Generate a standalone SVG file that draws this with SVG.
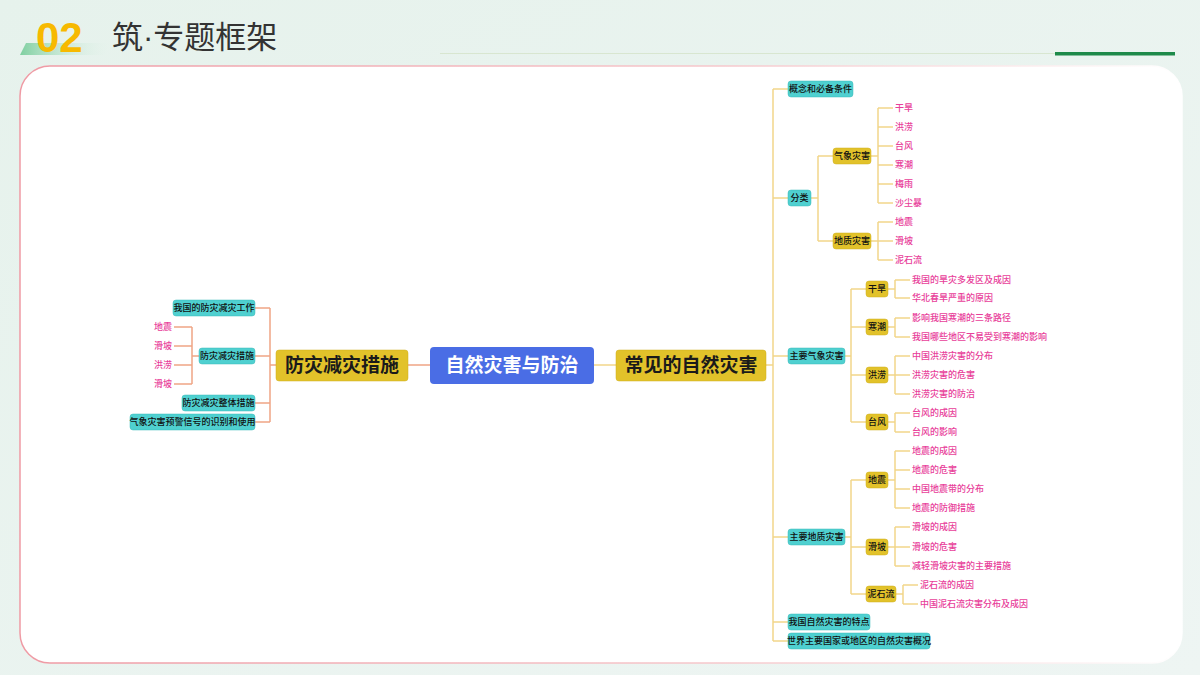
<svg xmlns="http://www.w3.org/2000/svg" width="1200" height="675" viewBox="0 0 1200 675">
<defs>
<linearGradient id="bg" x1="0" y1="0" x2="1" y2="1"><stop offset="0" stop-color="#e6f2ec"/><stop offset="1" stop-color="#eef5f3"/></linearGradient>
<linearGradient id="bar" x1="0" y1="0" x2="1" y2="0"><stop offset="0" stop-color="#7fcfa0"/><stop offset="1" stop-color="#e0f2e8" stop-opacity="0"/></linearGradient>
<linearGradient id="card" x1="0" y1="0" x2="1" y2="0"><stop offset="0" stop-color="#ef9aa4"/><stop offset="0.6" stop-color="#f6c8cc"/><stop offset="1" stop-color="#ffffff"/></linearGradient>
<style>
text{font-family:"Noto Sans CJK SC","Noto Sans",sans-serif}
.t1{fill:#4fd0d0;stroke:#3bb8b8;stroke-width:0.5}
.y1{fill:#e2c22a;stroke:#cfae1c;stroke-width:0.5}
.n{font-size:9px;fill:#111;font-weight:500}
.p{font-size:9px;fill:#e8409a;font-weight:500}
.cr{fill:none;stroke:#f2d68a;stroke-width:1.5;stroke-linejoin:round}
.cl{fill:none;stroke:#f0a585;stroke-width:1.5;stroke-linejoin:round}
</style>
</defs>
<rect width="1200" height="675" fill="url(#bg)"/>
<polygon points="26,43 110,43 104,55 20,55" fill="url(#bar)"/>
<text x="36" y="52" font-size="42" font-weight="bold" fill="#f7b900" style="font-family:'Liberation Sans',sans-serif">02</text>
<text x="112" y="48" font-size="31" fill="#333">筑<tspan style="font-family:'Liberation Sans',sans-serif">·</tspan>专题框架</text>
<line x1="440" y1="53.5" x2="1175" y2="53.5" stroke="#d8e6d0" stroke-width="1"/>
<rect x="1055" y="52" width="120" height="3.5" fill="#1e8a4a"/>
<rect x="20" y="66" width="1162" height="597" rx="30" fill="#fff" stroke="url(#card)" stroke-width="1.5"/>

<g id="connectors">
<path class="cl" d="M430 365 H408 M276 365 H270 M270 308 V422 M270 308 H255 M270 356 H255 M270 403 H255 M270 422 H255 M199 356 H192 M192 327 V384 M192 327 H174 M192 346 H174 M192 365 H174 M192 384 H174"/>
<path class="cr" d="M594 365 H616 M766 365 H773 M773 89 V641 M773 89 H788 M773 198 H788 M773 356 H788 M773 537 H788 M773 622 H788 M773 641 H788
M810 198 H818 M818 156 V241 M818 156 H833 M818 241 H833
M871 156 H878 M878 108 V203 M878 108 H893 M878 127 H893 M878 146 H893 M878 165 H893 M878 184 H893 M878 203 H893
M871 241 H878 M878 222 V260 M878 222 H893 M878 241 H893 M878 260 H893
M844 356 H851 M851 289 V422 M851 289 H866 M851 327 H866 M851 375 H866 M851 422 H866
M888 289 H895 M895 280 V298 M895 280 H910 M895 298 H910
M888 327 H895 M895 318 V337 M895 318 H910 M895 337 H910
M888 375 H895 M895 356 V394 M895 356 H910 M895 375 H910 M895 394 H910
M888 422 H895 M895 413 V432 M895 413 H910 M895 432 H910
M844 537 H851 M851 480 V594 M851 480 H866 M851 547 H866 M851 594 H866
M888 480 H895 M895 451 V508 M895 451 H910 M895 470 H910 M895 489 H910 M895 508 H910
M888 547 H895 M895 527 V566 M895 527 H910 M895 547 H910 M895 566 H910
M896 594 H903 M903 585 V604 M903 585 H918 M903 604 H918"/>
</g>

<g id="root"><rect x="430" y="347" width="164" height="37" rx="4" fill="#4a6de5"/><text x="512" y="372" font-size="19" font-weight="bold" fill="#fff" text-anchor="middle">自然灾害与防治</text></g>
<g id="right-main"><rect class="y1" x="616" y="350" width="150" height="31" rx="3"/><text x="691" y="372" font-size="19" font-weight="bold" fill="#1a1a1a" text-anchor="middle">常见的自然灾害</text></g>
<g id="left-main"><rect class="y1" x="276" y="350" width="132" height="31" rx="3"/><text x="342" y="372" font-size="19" font-weight="bold" fill="#1a1a1a" text-anchor="middle">防灾减灾措施</text></g>

<g id="l1"><rect class="t1" x="173" y="300" width="82" height="16" rx="3"/><text class="n" x="214" y="311" text-anchor="middle">我国的防灾减灾工作</text></g>
<g id="l2"><rect class="t1" x="199" y="348" width="56" height="16" rx="3"/><text class="n" x="227" y="359" text-anchor="middle">防灾减灾措施</text></g>
<g id="l3"><rect class="t1" x="182" y="395" width="73" height="16" rx="3"/><text class="n" x="218.5" y="406" text-anchor="middle">防灾减灾整体措施</text></g>
<g id="l4"><rect class="t1" x="130" y="414" width="125" height="16" rx="3"/><text class="n" x="192.5" y="425" text-anchor="middle">气象灾害预警信号的识别和使用</text></g>
<g id="l2-leaves">
<text class="p" x="172" y="330" text-anchor="end">地震</text>
<text class="p" x="172" y="349" text-anchor="end">滑坡</text>
<text class="p" x="172" y="368" text-anchor="end">洪涝</text>
<text class="p" x="172" y="387" text-anchor="end">滑坡</text>
</g>

<g id="r1"><rect class="t1" x="788" y="81" width="65" height="16" rx="3"/><text class="n" x="820.5" y="92" text-anchor="middle">概念和必备条件</text></g>
<g id="r2"><rect class="t1" x="788" y="190" width="23" height="16" rx="3"/><text class="n" x="799.5" y="201" text-anchor="middle">分类</text></g>
<g id="r3"><rect class="t1" x="788" y="348" width="57" height="16" rx="3"/><text class="n" x="816.5" y="359" text-anchor="middle">主要气象灾害</text></g>
<g id="r4"><rect class="t1" x="788" y="529" width="57" height="16" rx="3"/><text class="n" x="816.5" y="540" text-anchor="middle">主要地质灾害</text></g>
<g id="r5"><rect class="t1" x="788" y="614" width="82" height="16" rx="3"/><text class="n" x="829" y="625" text-anchor="middle">我国自然灾害的特点</text></g>
<g id="r6"><rect class="t1" x="788" y="633" width="142" height="16" rx="3"/><text class="n" x="859" y="644" text-anchor="middle">世界主要国家或地区的自然灾害概况</text></g>

<g id="qx"><rect class="y1" x="833" y="148" width="38" height="16" rx="3"/><text class="n" x="852" y="159" text-anchor="middle">气象灾害</text></g>
<g id="dz"><rect class="y1" x="833" y="233" width="38" height="16" rx="3"/><text class="n" x="852" y="244" text-anchor="middle">地质灾害</text></g>
<g id="fl-leaves">
<text class="p" x="895" y="111">干旱</text><text class="p" x="895" y="130">洪涝</text><text class="p" x="895" y="149">台风</text><text class="p" x="895" y="168">寒潮</text><text class="p" x="895" y="187">梅雨</text><text class="p" x="895" y="206">沙尘暴</text>
<text class="p" x="895" y="225">地震</text><text class="p" x="895" y="244">滑坡</text><text class="p" x="895" y="263">泥石流</text>
</g>

<g id="gh"><rect class="y1" x="866" y="281" width="22" height="16" rx="3"/><text class="n" x="877" y="292" text-anchor="middle">干旱</text></g>
<g id="hc"><rect class="y1" x="866" y="319" width="22" height="16" rx="3"/><text class="n" x="877" y="330" text-anchor="middle">寒潮</text></g>
<g id="hl"><rect class="y1" x="866" y="367" width="22" height="16" rx="3"/><text class="n" x="877" y="378" text-anchor="middle">洪涝</text></g>
<g id="tf"><rect class="y1" x="866" y="414" width="22" height="16" rx="3"/><text class="n" x="877" y="425" text-anchor="middle">台风</text></g>
<g id="dzn"><rect class="y1" x="866" y="472" width="22" height="16" rx="3"/><text class="n" x="877" y="483" text-anchor="middle">地震</text></g>
<g id="hp"><rect class="y1" x="866" y="539" width="22" height="16" rx="3"/><text class="n" x="877" y="550" text-anchor="middle">滑坡</text></g>
<g id="nsl"><rect class="y1" x="866" y="586" width="30" height="16" rx="3"/><text class="n" x="881" y="597" text-anchor="middle">泥石流</text></g>

<g id="qx-leaves">
<text class="p" x="912" y="283">我国的旱灾多发区及成因</text>
<text class="p" x="912" y="301">华北春旱严重的原因</text>
<text class="p" x="912" y="321">影响我国寒潮的三条路径</text>
<text class="p" x="912" y="340">我国哪些地区不易受到寒潮的影响</text>
<text class="p" x="912" y="359">中国洪涝灾害的分布</text>
<text class="p" x="912" y="378">洪涝灾害的危害</text>
<text class="p" x="912" y="397">洪涝灾害的防治</text>
<text class="p" x="912" y="416">台风的成因</text>
<text class="p" x="912" y="435">台风的影响</text>
</g>
<g id="dz-leaves">
<text class="p" x="912" y="454">地震的成因</text>
<text class="p" x="912" y="473">地震的危害</text>
<text class="p" x="912" y="492">中国地震带的分布</text>
<text class="p" x="912" y="511">地震的防御措施</text>
<text class="p" x="912" y="530">滑坡的成因</text>
<text class="p" x="912" y="550">滑坡的危害</text>
<text class="p" x="912" y="569">减轻滑坡灾害的主要措施</text>
<text class="p" x="920" y="588">泥石流的成因</text>
<text class="p" x="920" y="607">中国泥石流灾害分布及成因</text>
</g>
</svg>
